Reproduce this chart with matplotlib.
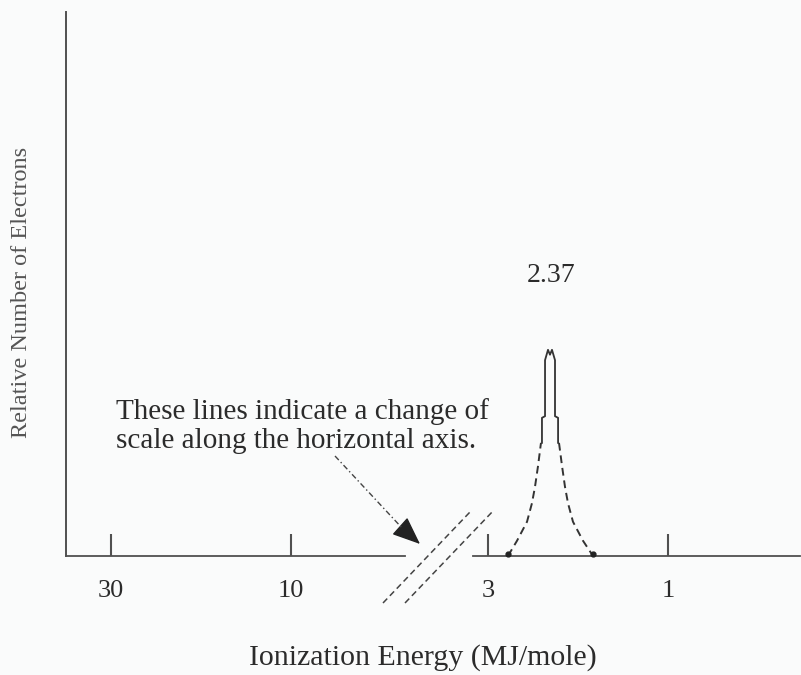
import matplotlib
matplotlib.use("Agg")
import matplotlib.pyplot as plt
from matplotlib.lines import Line2D

# ---------------- data ----------------
tick_values = [30, 10, 3, 1]
tick_labels = ["30", "10", "3", "1"]

# lower (dashed) flanks of the peak: energy (MJ/mol), relative height
left_flank_E = [2.656, 2.513, 2.364, 2.294, 2.252, 2.211, 2.171]
left_flank_h = [0.000, 0.028, 0.063, 0.097, 0.127, 0.165, 0.208]
right_flank_E = [1.945, 1.909, 1.875, 1.841, 1.786, 1.680, 1.580]
right_flank_h = [0.208, 0.165, 0.127, 0.097, 0.063, 0.028, 0.000]

# upper (solid) core of the peak
core_E = [2.158, 2.158, 2.118, 2.118, 2.080, 2.055, 2.030, 1.993, 1.993, 1.956, 1.956]
core_h = [0.208, 0.254, 0.257, 0.360, 0.379, 0.370, 0.379, 0.360, 0.257, 0.254, 0.208]

peak_label = "2.37"
peak_label_E = 2.04
note_text = "These lines indicate a change of\nscale along the horizontal axis."
x_label = "Ionization Energy (MJ/mole)"
y_label = "Relative Number of Electrons"

# ---------------- figure ----------------
W, H = 801, 675
fig = plt.figure(figsize=(W / 100, H / 100), dpi=100, facecolor="#fafbfb")
serif = ["Liberation Serif", "DejaVu Serif"]
txt_col = "#2b2b2b"
line_col = "#505050"

def fx(px):
    return px / W

def fy(py):
    return 1 - py / H

ax = fig.add_axes([fx(65.5), fy(556), fx(800) - fx(65.5), fy(12) - fy(556)])
ax.set_facecolor("none")
ax.set_xscale("log")
ax.set_xlim(39.5, 0.447)
ax.set_ylim(0, 1)

for s in ["top", "right", "bottom"]:
    ax.spines[s].set_visible(False)
ax.spines["left"].set_color(line_col)
ax.spines["left"].set_linewidth(1.4)

ax.set_yticks([])
ax.xaxis.set_minor_locator(matplotlib.ticker.NullLocator())
ax.set_xticks(tick_values)
ax.set_xticklabels(tick_labels, fontfamily=serif, fontsize=19, color=txt_col)
ax.tick_params(axis="x", direction="in", length=16, width=1.5, color=line_col, pad=17)

# broken bottom axis
ax.plot([0, 0.4622], [0, 0], transform=ax.transAxes, color=line_col, lw=1.3, clip_on=False)
ax.plot([0.5548, 1.0], [0, 0], transform=ax.transAxes, color=line_col, lw=1.3, clip_on=False)

# peak
ax.plot(left_flank_E, left_flank_h, color="#333333", lw=1.4, linestyle=(0, (4, 2.5)))
ax.plot(right_flank_E, right_flank_h, color="#333333", lw=1.4, linestyle=(0, (4, 2.5)))
ax.plot(core_E, core_h, color="#333333", lw=1.3)
ax.plot([left_flank_E[0], right_flank_E[-1]], [left_flank_h[0] + 0.004, right_flank_h[-1] + 0.004],
        linestyle="none", marker="o", ms=3.5, color="#222222", clip_on=False)

ax.text(peak_label_E, 0.515, peak_label, ha="center", va="center",
        fontfamily=serif, fontsize=20, color=txt_col)

# axis-break marks
for (x0, y0, x1, y1) in [(383, 603, 470, 512), (405, 603, 494, 510)]:
    fig.add_artist(Line2D([fx(x0), fx(x1)], [fy(y0), fy(y1)], color="#444444", lw=1.1,
                          linestyle=(0, (4, 2.5))))

# note + arrow
fig.text(fx(116), fy(426), note_text, ha="left", va="center", fontfamily=serif,
         fontsize=21, color=txt_col, linespacing=1.13)
fig.add_artist(Line2D([fx(335), fx(403)], [fy(456), fy(529)], color="#444444", lw=1.0,
                      linestyle=(0, (4, 2, 1, 2))))
ax.annotate("", xy=(fx(420), fy(544)), xytext=(fx(401), fy(527)),
            xycoords="figure fraction", textcoords="figure fraction",
            arrowprops=dict(arrowstyle="-|>,head_length=1.1,head_width=0.45", color="#222222",
                            lw=1.0, mutation_scale=16, shrinkA=0, shrinkB=0))

# axis labels
fig.text(fx(423), fy(658), x_label, ha="center", va="center", fontfamily=serif,
         fontsize=21.5, color=txt_col)
fig.text(fx(22), fy(292), y_label, ha="center", va="center", rotation=90,
         fontfamily=serif, fontsize=17.5, color="#555555")

fig.savefig("out.png", dpi=100, facecolor=fig.get_facecolor())
